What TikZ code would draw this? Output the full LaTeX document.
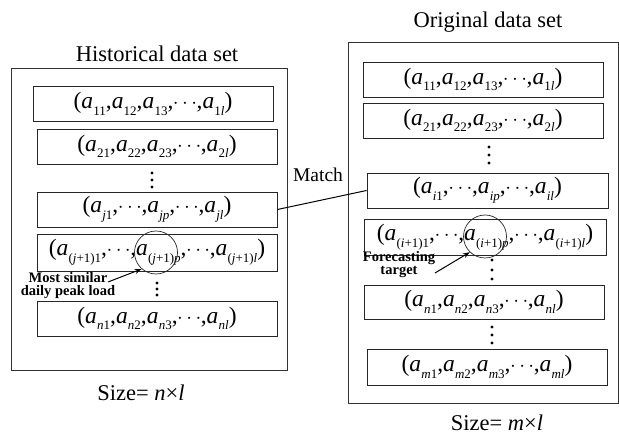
\documentclass[tikz,border=0pt]{standalone}
\usepackage{fontspec}
\setmainfont{Liberation Serif}
\usetikzlibrary{arrows.meta}

% element a with a subscript index
\newcommand\idx[1]{\raisebox{-0.28em}{\fontsize{13}{13}\selectfont #1}}
\newcommand\av[1]{\textit{a}\kern0.2pt\idx{#1}}
\newcommand\cd{\kern-0.5pt{\fontsize{20}{20}\selectfont$\cdots$}\kern-0.5pt}
\newcommand\iv[1]{\textit{#1}}

\tikzset{
  frame/.style={draw=black!80, line width=0.9pt},
  rowbox/.style={draw=black!85, line width=0.9pt, minimum height=35pt,
    inner sep=0pt, font=\fontsize{23.5}{24}\selectfont},
  title/.style={font=\fontsize{22.5}{24}\selectfont},
  caption/.style={font=\fontsize{22.5}{24}\selectfont},
  matchtext/.style={font=\fontsize{19.5}{22}\selectfont},
  mark label/.style={font=\bfseries\fontsize{14.5}{13}\selectfont, align=center, inner sep=0pt},
  ring/.style={draw=black!85, line width=0.7pt, circle, minimum size=43pt, inner sep=0pt},
  pointer/.style={draw=black, line width=1pt, -{Stealth[length=7pt,width=5pt]}},
  dot/.style={fill=black, radius=1.6pt},
}

\begin{document}
\begin{tikzpicture}[x=1pt, y=-1pt]
\useasboundingbox (0,0) rectangle (619,435);

% ---- historical data set ----
\node[title] (htitle) at (157,54) {Historical data set};
\draw[frame] (11,68) rectangle (287,370);

\node[rowbox, minimum width=240pt] (h1) at (153,104)
  {(\av{11},\av{12},\av{13},\cd,\av{1\iv{l}})};
\node[rowbox, minimum width=240pt] (h2) at (157,146.5)
  {(\av{21},\av{22},\av{23},\cd,\av{2\iv{l}})};
\node[rowbox, minimum width=240pt] (h3) at (157,209.5)
  {(\av{\iv{j}1},\cd,\av{\iv{jp}},\cd,\av{\iv{jl}})};
\node[rowbox, minimum width=240pt, minimum height=37pt] (h4) at (157,252.5)
  {(\av{(\iv{j}+1)1},\cd,\av{(\iv{j}+1)\iv{p}},\cd,\av{(\iv{j}+1)\iv{l}})};
\node[rowbox, minimum width=240pt] (h5) at (157,318.5)
  {(\av{\iv{n}1},\av{\iv{n}2},\av{\iv{n}3},\cd,\av{\iv{nl}})};

\foreach \y in {173,180,187} \fill[dot] (152,\y) circle;
\foreach \y in {283,289,295} \fill[dot] (157,\y) circle;

\node[ring] (c1) at (156,252.5) {};
\node[mark label] (lab1) at (68,286) {Most similar\\daily peak load};
\coordinate (a1) at (108,282);
\draw[pointer] (a1) -- (c1.229);

\node[caption] (hsize) at (141,393) {Size= \iv{n}×\iv{l}};

% ---- original data set ----
\node[title] (otitle) at (488,22) {Original data set};
\draw[frame] (348,42) -- (618,42) -- (618,403) -- (348,403) -- cycle;

\node[rowbox, minimum width=240pt] (o1) at (483,79.5)
  {(\av{11},\av{12},\av{13},\cd,\av{1\iv{l}})};
\node[rowbox, minimum width=240pt] (o2) at (483,120.5)
  {(\av{21},\av{22},\av{23},\cd,\av{2\iv{l}})};
\node[rowbox, minimum width=241pt] (o3) at (487.5,190.5)
  {(\av{\iv{i}1},\cd,\av{\iv{ip}},\cd,\av{\iv{il}})};
\node[rowbox, minimum width=242pt, minimum height=36pt] (o4) at (485,237)
  {(\av{(\iv{i}+1)1},\cd,\av{(\iv{i}+1)\iv{p}},\cd,\av{(\iv{i}+1)\iv{l}})};
\node[rowbox, minimum width=240pt, minimum height=34pt] (o5) at (484,302)
  {(\av{\iv{n}1},\av{\iv{n}2},\av{\iv{n}3},\cd,\av{\iv{nl}})};
\node[rowbox, minimum width=240pt, minimum height=36pt] (o6) at (487,367)
  {(\av{\iv{m}1},\av{\iv{m}2},\av{\iv{m}3},\cd,\av{\iv{ml}})};

\foreach \y in {147,155,163} \fill[dot] (489,\y) circle;
\foreach \y in {260,270,279} \fill[dot] (492,\y) circle;
\foreach \y in {327,335,343} \fill[dot] (492,\y) circle;

\node[ring] (c2) at (485,236.5) {};
\node[mark label] (lab2) at (399,265) {Forecasting\\target};
\coordinate (a2) at (435,273);
\draw[pointer] (a2) -- (c2.226);

\node[caption] (osize) at (497,423) {Size= \iv{m}×\iv{l}};

% ---- match link ----
\node[matchtext] (match) at (318,175) {Match};
\draw[line width=1pt] (h3.east) -- (o3.west);

\end{tikzpicture}
\end{document}
